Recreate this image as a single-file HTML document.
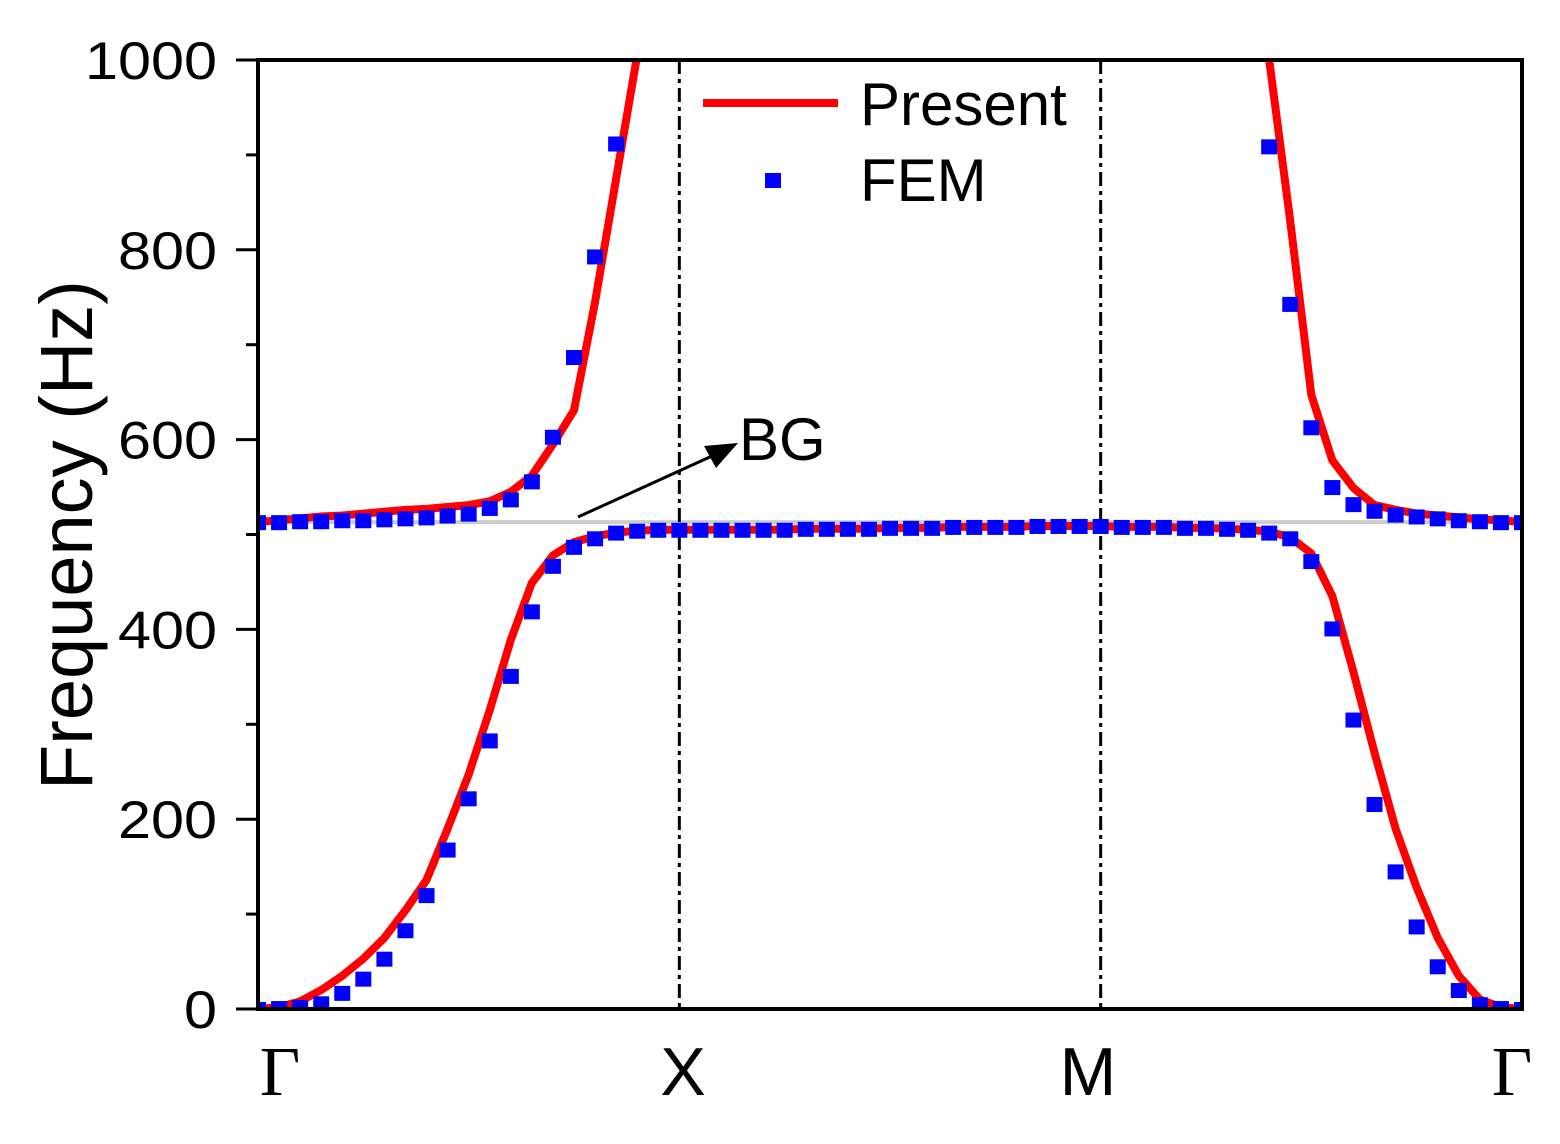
<!DOCTYPE html>
<html><head><meta charset="utf-8"><style>
body{margin:0;background:#fff;}
svg{display:block;font-family:"Liberation Sans",sans-serif;}
</style></head><body>
<svg id="chart" width="1560" height="1144">
<defs><clipPath id="clip"><rect x="258" y="60" width="1264" height="949"/></clipPath></defs>
<g id="plot" clip-path="url(#clip)"></g>
<g id="axes"></g>
</svg>
<script>
const kIndex = [0,1,2,3,4,5,6,7,8,9,10,11,12,13,14,15,16,17,18,19,20,21,22,23,24,25,26,27,28,29,30,31,32,33,34,35,36,37,38,39,40,41,42,43,44,45,46,47,48,49,50,51,52,53,54,55,56,57,58,59,60];
const femLower = [0,1,2,6,17,32,53,83,120,168,222,283,351,419,467,487,496,502,504,505,505,
 505,505,505,505,505,506,506,506,506,507,507,507,508,508,508,508,509,509,509,509,
 508,508,508,507,507,506,505,502,496,472,401,305,216,145,87,45,20,5,1,0];
const femUpperLeft = [513,513,514,514,515,515,516,517,518,520,522,528,537,556,603,687,793,912];
const femUpperRight = [909,743,613,550,532,525,521,519,517,515,514,513,513];
const presentLower = [0,2,8,20,35,53,75,104,136,190,247,315,389,449,478,492,498,502,504,505,505,
 505,505,505,505,505,506,506,506,506,507,507,507,508,508,508,508,509,509,509,509,
 508,508,508,507,507,506,505,503,497,480,435,355,270,190,128,75,35,10,2,0];
const presentUpperLeft = [513,515,517,519,520,522,524,526,527,529,531,535,545,562,595,631,745,875,1005,1200];
const presentUpperRight = [1200,1000,830,647,578,549,531,526,522,520,518,516,515,513];
const yTicks = [0,200,400,600,800,1000];
const xTickLabels = ["Γ","X","M","Γ"];
const xTickIdx = [0,20,40,60];

const X0=258,X1=1522,Y0=1009,Y1=60;
const sx=i=>X0+(X1-X0)*i/60;
const sy=v=>Y0-(Y0-Y1)*v/1000;
const NS="http://www.w3.org/2000/svg";
const plot=document.getElementById('plot'), axes=document.getElementById('axes');
function mk(tag,attrs,parent){const e=document.createElementNS(NS,tag);for(const k in attrs)e.setAttribute(k,attrs[k]);parent.appendChild(e);return e;}

let g=mk('line',{x1:X0,x2:X1,y1:sy(513),y2:sy(513),stroke:'#cccccc','stroke-width':4},plot);


[20,40].forEach(i=>{
 const l=mk('line',{x1:sx(i),x2:sx(i),y1:Y1,y2:Y0,stroke:'#000','stroke-width':3,'stroke-dasharray':'14 5 4 5'},plot);
 
 
});
function line(vals,start,name){
 const pts=vals.map((v,j)=>sx(start+j)+','+sy(v)).join(' ');
 const p=mk('polyline',{points:pts,fill:'none',stroke:'#ff0000','stroke-width':8,'stroke-linejoin':'round'},plot);
 
 
}
line(presentLower,0,'present-lower-branch');
line(presentUpperLeft,0,'present-upper-branch-left');
line(presentUpperRight,47,'present-upper-branch-right');
function pts(vals,start,name){
 vals.forEach((v,j)=>{
  const r=mk('rect',{x:sx(start+j)-8,y:sy(v)-7,width:16,height:15,fill:'#0000ff'},plot);
  
  
 });
}
pts(femLower,0,'fem-point');
pts(femUpperLeft,0,'fem-point');
pts(femUpperRight,48,'fem-point');

let f=mk('rect',{x:X0,y:Y1,width:X1-X0,height:Y0-Y1,fill:'none',stroke:'#000','stroke-width':4},axes);


for(let v=0;v<=1000;v+=100){
 const major=v%200===0;
 const t=mk('line',{x1:major?236:246,x2:X0,y1:sy(v),y2:sy(v),stroke:'#000','stroke-width':3},axes);
 
 
}
yTicks.forEach(v=>{
 const s=String(v);
 const t=mk('text',{x:217,y:sy(v)+19,'font-size':53,'text-anchor':'end',textLength:s.length*33,lengthAdjust:'spacingAndGlyphs'},axes);
 t.textContent=s;
 
 
});
xTickLabels.forEach((s,j)=>{
 const serif=s==="Γ";
 let x=sx(xTickIdx[j]); if(j===0)x=280; if(j===3)x=1512; if(j===1)x=683; if(j===2)x=1088;
 const t=mk('text',{x:x,y:1095,'font-size':serif?70:68,'text-anchor':'middle','font-family':serif?'"Liberation Serif",serif':'"Liberation Sans",sans-serif'},axes);
 t.textContent=s;
 
 
});
let yt=mk('text',{x:0,y:0,'font-size':74,'text-anchor':'middle',transform:'translate(92,535) rotate(-90)'},axes);
yt.textContent='Frequency (Hz)';


let ll=mk('line',{x1:703,x2:838,y1:103,y2:103,stroke:'#ff0000','stroke-width':8},axes);


let lt=mk('text',{x:860,y:125,'font-size':60},axes);lt.textContent='Present';


let ls=mk('rect',{x:765,y:173,width:16,height:15,fill:'#0000ff'},axes);


let lf=mk('text',{x:860,y:201,'font-size':60},axes);lf.textContent='FEM';


let ar=mk('line',{x1:578,y1:517,x2:712,y2:456,stroke:'#000','stroke-width':3},axes);


let ah=mk('polygon',{points:'738,443 704,446 716,468',fill:'#000'},axes);


let bg=mk('text',{x:739,y:460,'font-size':60},axes);bg.textContent='BG';


</script>
</body></html>
